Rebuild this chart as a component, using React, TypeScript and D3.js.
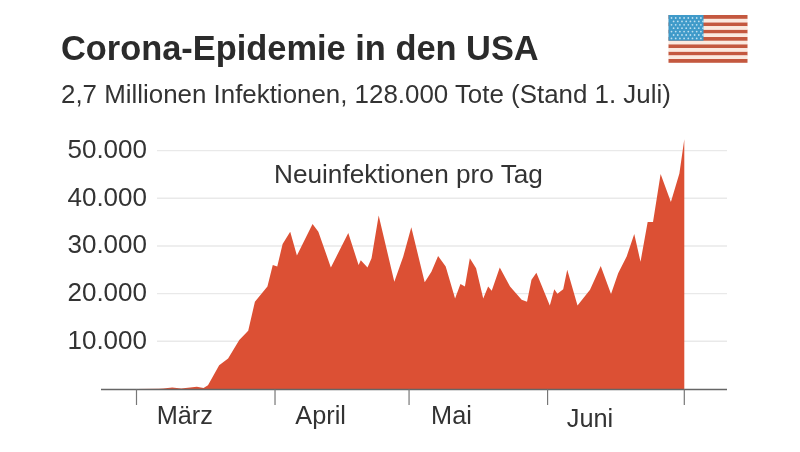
import React from "react";
import * as d3 from "d3";

const days = [0, 5, 6, 8, 10, 13.5, 15, 16, 18.5, 20.5, 23, 25, 26.5, 29.3, 30.5, 31.5, 32.7, 34.4, 35.9, 39.4, 40.7, 43.5, 47.4, 49.7, 50.2, 51.7, 52.6, 54.2, 57.7, 59.7, 61.5, 64.5, 66, 67.5, 69.2, 71.3, 72.5, 73.5, 74.6, 76, 77.6, 78.7, 79.5, 81.3, 83.6, 86.2, 87.4, 88.4, 89.5, 92.5, 93.5, 94.2, 95.5, 96.4, 98.7, 101.5, 103.9, 106.2, 107.8, 109.7, 111.4, 112.8, 114.4, 115.6, 117.3, 119.6, 121.5, 122.6];
const newCases = [0, 50, 100, 300, 100, 450, 200, 800, 5000, 6400, 10300, 12200, 18300, 21500, 26000, 25700, 30400, 33000, 28000, 34600, 33000, 25500, 32700, 26000, 27000, 25500, 27400, 36400, 22500, 27800, 33900, 22400, 24600, 27900, 25700, 19000, 22000, 21500, 27400, 25300, 19000, 21500, 20600, 25500, 21500, 18700, 18300, 22900, 24400, 17500, 20900, 20000, 20900, 25000, 17500, 20800, 25800, 19900, 24300, 27800, 32500, 26700, 35000, 35000, 45100, 39200, 45200, 52400];
const yTicks = [10000, 20000, 30000, 40000, 50000];
const tickDays = [0, 31, 61, 92, 122.6];
const monthNames = ["März", "April", "Mai", "Juni"];
const monthDays = [10.8, 41.2, 70.5, 101.5];
const stripeIndex = d3.range(7);
const starRows = d3.range(7);
const starCols = d3.range(8);

const FONT = "'Liberation Sans', Arial, sans-serif";
const INK = "#333333";
const RED = "#dc5034";

export default function App() {
  const x = d3.scaleLinear().domain([0, 122.6]).range([136.5, 684.3]);
  const y = d3.scaleLinear().domain([0, 50000]).range([389, 150.6]);
  const area = d3
    .area<number>()
    .x((_, i) => x(days[i]))
    .y0(y(0))
    .y1((d) => y(d));
  const fx = d3.scaleLinear().domain([0, 1]).range([668.5, 747.5]);
  const fy = d3.scaleLinear().domain([0, 7]).range([15, 66.2]);
  const fmt = (v: number) => d3.format(",")(v).replace(/,/g, ".");

  return (
    <svg
      width={800}
      height={452}
      viewBox="0 0 800 452"
      style={{ position: "absolute", left: 0, top: 0, background: "#fff", filter: "blur(0.45px)" }}
      fontFamily={FONT}
    >
      <text x={61} y={60} fontSize={34.4} fontWeight={700} fill="#2b2b2b">
        Corona-Epidemie in den USA
      </text>
      <text x={61} y={102.5} fontSize={25.9} fill={INK}>
        2,7 Millionen Infektionen, 128.000 Tote (Stand 1. Juli)
      </text>

      {yTicks.map((t) => (
        <g key={t}>
          <line x1={157} x2={727} y1={y(t)} y2={y(t)} stroke="#e9e9e9" strokeWidth={1.4} />
          <text x={147} y={y(t) + 7.5} textAnchor="end" fontSize={26} fill={INK}>
            {fmt(t)}
          </text>
        </g>
      ))}

      <path d={area(newCases) ?? ""} fill={RED} />

      <line x1={101} x2={727} y1={389.5} y2={389.5} stroke="#666" strokeWidth={1.5} />
      {tickDays.map((d) => (
        <line key={d} x1={x(d)} x2={x(d)} y1={389.5} y2={405} stroke="#777" strokeWidth={1.2} />
      ))}
      {monthNames.map((m, i) => (
        <text key={m} x={x(monthDays[i])} y={i === 3 ? 426.5 : 424} textAnchor="middle" fontSize={25.3} fill={INK}>
          {m}
        </text>
      ))}

      <text x={274} y={183} fontSize={26.2} fill={INK}>
        Neuinfektionen pro Tag
      </text>

      {stripeIndex.map((i) => (
        <rect key={i} x={fx(0)} width={fx(1) - fx(0)} y={fy(i)} height={3.9} fill="#c4583f" />
      ))}
      {stripeIndex.slice(0, 6).map((i) => (
        <rect key={i} x={fx(0)} width={fx(1) - fx(0)} y={fy(i) + 3.9} height={3.4} fill="#fbe9df" />
      ))}
      <rect x={668.5} y={15} width={35} height={25.7} fill="#3f9ac9" />
      {starRows.map((r) =>
        starCols.map((c) => (
          <circle
            key={`${r}-${c}`}
            cx={671.5 + c * 4.2 + (r % 2 ? 2.1 : 0)}
            cy={18 + r * 3.4}
            r={0.9}
            fill="#bfe0f0"
          />
        ))
      )}
    </svg>
  );
}
